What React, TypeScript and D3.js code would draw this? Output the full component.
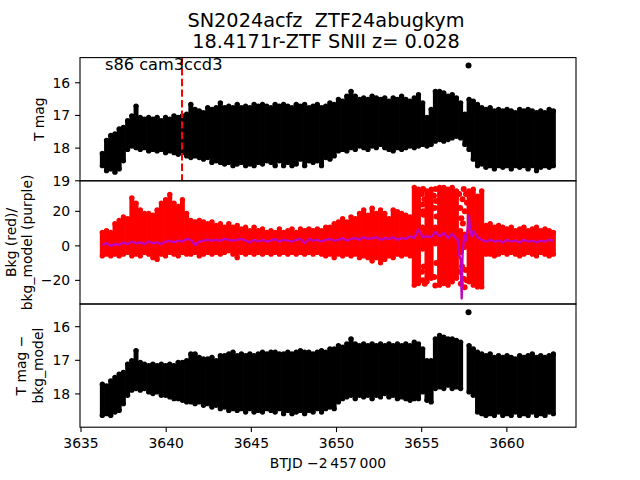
import React from 'react';
import * as d3 from 'd3';

// ---------- data ----------
const BIN_START = 3636.25;
const BIN_STEP = 0.2475;

// Panel 1: T mag envelope per time bin (bright edge, faint edge)
const magTop = [18.1, 17.7, 17.55, 17.5, 17.35, 17.3, 17.1, 16.95, 16.65, 17.0,
  17.05, 17.0, 17.05, 17.0, 17.1, 17.0, 17.05, 16.95, 17.0, 16.95,
  16.9, 16.6, 16.75, 16.8, 16.85, 16.7, 16.75, 16.7, 16.55, 16.7,
  16.65, 16.7, 16.6, 16.7, 16.65, 16.7, 16.6, 16.65, 16.6, 16.65,
  16.7, 16.6, 16.65, 16.6, 16.65, 16.7, 16.6, 16.65, 16.6, 16.7,
  16.65, 16.6, 16.7, 16.65, 16.55, 16.6, 16.45, 16.5, 16.35, 16.2,
  16.35, 16.45, 16.4, 16.45, 16.35, 16.4, 16.45, 16.4, 16.5, 16.4,
  16.45, 16.35, 16.45, 16.5, 16.4, 16.3, 16.55, 17.0, 16.75, 16.2,
  16.2, 16.25, 16.35, 16.3, 16.4, 16.55, 16.9, 16.45, 16.5, 16.6,
  16.7, 16.75, 16.7, 16.8, 16.75, 16.8, 16.75, 16.8, 16.85, 16.75,
  16.8, 16.75, 16.8, 16.85, 16.8, 16.85, 16.75, 16.8];
const magBot = [18.6, 18.75, 18.7, 18.8, 18.7, 18.45, 18.1, 18.0, 18.05, 18.1,
  18.05, 18.15, 18.1, 18.15, 18.1, 18.2, 18.15, 18.2, 18.25, 18.2,
  18.3, 18.35, 18.3, 18.35, 18.4, 18.35, 18.5, 18.45, 18.5, 18.55,
  18.5, 18.6, 18.55, 18.5, 18.6, 18.55, 18.6, 18.5, 18.55, 18.45,
  18.5, 18.6, 18.45, 18.6, 18.5, 18.6, 18.55, 18.4, 18.6, 18.45,
  18.5, 18.45, 18.6, 18.35, 18.4, 18.3, 18.15, 18.1, 18.15, 18.05,
  18.1, 18.0, 18.05, 18.1, 18.0, 18.05, 17.95, 18.05, 18.1, 18.15,
  18.05, 18.1, 18.05, 18.0, 18.05, 18.0, 17.95, 18.0, 17.95, 17.85,
  17.8, 17.85, 17.8, 17.75, 17.7, 17.75, 17.95, 18.1, 18.4, 18.6,
  18.55, 18.65, 18.6, 18.7, 18.6, 18.65, 18.6, 18.7, 18.6, 18.65,
  18.6, 18.7, 18.6, 18.75, 18.65, 18.6, 18.65, 18.6];

// Panel 2: background flux envelope (red points) and model (purple)
const bkgHi = [9, 10, 9, 14, 16, 18, 17, 29, 26, 22,
  20, 20, 19, 22, 26, 28, 31, 26, 24, 28,
  20, 16, 15, 16, 15, 14, 15, 13, 14, 12,
  14, 12, 13, 11, 12, 10, 12, 10, 11, 9,
  10, 9, 11, 9, 10, 11, 9, 11, 10, 11,
  10, 11, 10, 12, 12, 14, 15, 17, 15, 18,
  17, 20, 22, 19, 23, 20, 22, 20, 17, 22,
  21, 20, 19, 18, 35, 34, 12, 33, 34, 12,
  35, 35, 34, 35, 33, 10, 8, 33, 34, 30,
  33, 13, 14, 12, 13, 12, 11, 12, 10, 11,
  12, 10, 11, 12, 10, 11, 10, 9];
const bkgLo = [-7, -6, -7, -6, -7, -6, -5, -7, -6, -7,
  -5, -6, -8, -9, -6, -7, -5, -6, -7, -5,
  -6, -6, -5, -7, -6, -5, -6, -5, -6, -5,
  -4, -6, -8, -5, -6, -5, -6, -5, -6, -5,
  -6, -5, -6, -5, -6, -5, -6, -5, -6, -5,
  -6, -5, -6, -7, -6, -8, -6, -7, -6, -7,
  -6, -8, -7, -8, -10, -8, -11, -9, -7, -8,
  -6, -7, -6, -7, -24, -23, -3, -22, -20, 0,
  -24, -23, -24, -22, -20, -5, -2, -22, -24, -25,
  -25, -6, -6, -7, -6, -5, -6, -5, -6, -7,
  -6, -5, -6, -7, -5, -6, -7, -6];
const bkgScatT = [3655.0, 3655.04, 3655.08, 3655.12, 3655.16, 3655.02, 3655.07, 3655.13, 3655.18, 3655.1,
  3655.72, 3655.76, 3655.82, 3655.87, 3655.74, 3655.8, 3655.86, 3655.84,
  3657.2, 3657.26, 3657.33, 3657.4, 3657.47, 3657.53, 3657.6, 3657.66,
  3657.22, 3657.3, 3657.37, 3657.45, 3657.52, 3657.58, 3657.64, 3657.42];
const bkgScatV = [30, 24, 33, 18, 27, -15, -20, -12, -22, 20,
  29, 22, 33, 17, -18, -23, -10, 26,
  30, 22, 16, 27, 33, 20, 30, 25,
  -15, -22, -12, -19, -24, -14, -20, 13];
const modelV = [0.5, 1.5, 0.0, 1.0, 0.5, 2.0, 1.0, 2.5, 1.5, 2.0,
  1.0, 2.5, 1.5, 2.0, 1.0, 2.5, 3.0, 2.0, 3.0, 2.5,
  4.0, 3.5, 0.5, 2.5, 3.0, 3.5, 3.0, 3.5, 3.0, 4.0,
  3.5, 3.0, 3.5, 4.0, 3.0, 2.0, 3.5, 2.5, 3.5, 2.5,
  3.0, 4.0, 2.5, 3.5, 3.0, 2.5, 3.5, 4.0, 1.5, 4.0,
  3.0, 3.5, 2.5, 3.5, 4.0, 3.0, 3.5, 4.5, 3.0, 4.0,
  4.5, 3.5, 5.0, 4.0, 4.5, 5.0, 3.5, 4.5, 4.0, 5.0,
  3.5, 4.5, 4.0, 5.5, 4.5, 9.5, 5.0, 5.5, 5.0, 8.0,
  5.5, 7.5, 4.5, 7.0, 4.0, 2.0, 6.0, 6.0, 8.5, 5.0,
  3.5, 2.5, 3.5, 2.5, 3.0, 2.0, 3.5, 2.5, 3.0, 2.0,
  3.5, 2.5, 3.0, 2.0, 3.0, 2.5, 3.5, 3.0];
const modelSpikeT = [3657.1, 3657.2, 3657.28, 3657.35, 3657.4, 3657.5, 3657.6, 3657.7, 3657.78, 3657.85, 3657.94];
const modelSpikeV = [4, -5, -8, -30.5, -5, 6, 3, 10, 17.5, 9, 5.5];

// Panel 3: T mag - bkg_model envelope
const subTop = [17.65, 17.7, 17.55, 17.45, 17.35, 17.3, 17.05, 16.95, 16.65, 17.0,
  17.05, 17.1, 17.05, 17.1, 17.05, 17.1, 17.05, 17.1, 17.0, 17.0,
  16.95, 16.75, 16.75, 16.85, 16.9, 16.9, 16.85, 16.95, 16.8, 16.8,
  16.75, 16.7, 16.8, 16.75, 16.8, 16.75, 16.8, 16.75, 16.7, 16.75,
  16.7, 16.7, 16.75, 16.75, 16.7, 16.75, 16.7, 16.65, 16.7, 16.7,
  16.75, 16.7, 16.65, 16.7, 16.6, 16.6, 16.5, 16.55, 16.45, 16.3,
  16.45, 16.5, 16.45, 16.5, 16.45, 16.5, 16.45, 16.5, 16.45, 16.5,
  16.45, 16.5, 16.45, 16.5, 16.4, 16.45, 16.6, 16.95, 16.95, 16.3,
  16.2, 16.25, 16.3, 16.3, 16.35, 16.4, null, 16.5, 16.6, 16.7,
  16.75, 16.8, 16.75, 16.85, 16.8, 16.85, 16.8, 16.85, 16.9, 16.8,
  16.85, 16.8, 16.75, 16.85, 16.8, 16.85, 16.8, 16.75];
const subBot = [18.7, 18.65, 18.7, 18.6, 18.55, 18.35, 18.1, 17.95, 17.9, 17.95,
  17.9, 18.0, 18.05, 18.0, 18.1, 18.1, 18.15, 18.2, 18.2, 18.25,
  18.3, 18.3, 18.35, 18.3, 18.4, 18.35, 18.45, 18.4, 18.5, 18.45,
  18.55, 18.5, 18.55, 18.5, 18.6, 18.5, 18.6, 18.55, 18.6, 18.5,
  18.55, 18.6, 18.5, 18.65, 18.55, 18.65, 18.6, 18.55, 18.65, 18.55,
  18.6, 18.5, 18.6, 18.5, 18.45, 18.5, 18.3, 18.2, 18.15, 18.1,
  18.2, 18.1, 18.15, 18.1, 18.2, 18.1, 18.15, 18.05, 18.15, 18.1,
  18.2, 18.15, 18.2, 18.25, 18.2, 18.2, 18.0, 18.25, 18.3, 17.9,
  17.85, 17.9, 17.8, 17.9, 17.85, 17.9, null, 18.0, 18.1, 18.6,
  18.65, 18.7, 18.65, 18.7, 18.6, 18.7, 18.65, 18.7, 18.6, 18.7,
  18.65, 18.7, 18.6, 18.7, 18.65, 18.7, 18.6, 18.65];

const outlierT = [3657.75];
const outlierMag = [15.47];
const outlierSub = [15.57];
const markerT = 3640.93;

const xTicks = [3635, 3640, 3645, 3650, 3655, 3660];
const magTicks = [16, 17, 18, 19];
const bkgTicks = [-20, 0, 20];
const subTicks = [16, 17, 18];

const titleLines = ['SN2024acfz  ZTF24abugkym', '18.4171r-ZTF SNII z= 0.028'];
const sectorLabel = 's86 cam3ccd3';
const xLabel = 'BTJD \u22122\u2009457\u2009000';

// ---------- layout ----------
const W = 640, H = 480;
const LEFT = 80, RIGHT = 576;
const P1: [number, number] = [57.6, 180.8];
const P2: [number, number] = [180.8, 304];
const P3: [number, number] = [304, 427.2];
const FONT = 'DejaVu Sans, sans-serif';
const TICK = 4.9;
const MR = 2.6;

export default function App() {
  const x = d3.scaleLinear().domain([3634.94, 3664.06]).range([LEFT, RIGHT]);
  const y1 = d3.scaleLinear().domain([15.23, 19.0]).range(P1);
  const y2 = d3.scaleLinear().domain([37.7, -33.7]).range(P2);
  const y3 = d3.scaleLinear().domain([15.325, 18.99]).range(P3);
  const times = magTop.map((_, i) => BIN_START + i * BIN_STEP);
  const bw = x(BIN_START + BIN_STEP) - x(BIN_START) + 0.7;

  const bins = (top: (number | null)[], bot: (number | null)[], ys: d3.ScaleLinear<number, number>, color: string, key: string) =>
    times.map((t, i) => {
      const a = top[i], b = bot[i];
      if (a == null || b == null) return null;
      const ya = Math.min(ys(a), ys(b)), yb = Math.max(ys(a), ys(b));
      const cx = x(t);
      return (
        <g key={key + i} fill={color}>
          <rect x={cx - bw / 2} y={ya + 1} width={bw} height={Math.max(0, yb - ya - 2)} />
          <circle cx={cx} cy={ya + MR - 0.6} r={MR} />
          <circle cx={cx} cy={yb - MR + 0.6} r={MR} />
        </g>
      );
    });

  // model line: cadence values outside spike window + spike detail
  const lo = modelSpikeT[0] - 0.05, hi = modelSpikeT[modelSpikeT.length - 1] + 0.05;
  const modelPts: [number, number][] = [];
  times.forEach((t, i) => { if (t < lo || t > hi) modelPts.push([t, modelV[i]]); });
  modelSpikeT.forEach((t, i) => modelPts.push([t, modelSpikeV[i]]));
  modelPts.sort((a, b) => a[0] - b[0]);
  const modelPath = d3.line<[number, number]>().x(d => x(d[0])).y(d => y2(d[1]))(modelPts) || '';

  const yAxis = (ticks: number[], ys: d3.ScaleLinear<number, number>, k: string) => (
    <g key={k}>
      {ticks.map(v => (
        <g key={k + v}>
          <line x1={LEFT - TICK} x2={LEFT} y1={ys(v)} y2={ys(v)} stroke="#000" strokeWidth={1.1} />
          <text x={LEFT - TICK - 4.9} y={ys(v)} textAnchor="end" dominantBaseline="central" fontSize={13.9} fontFamily={FONT}>
            {v < 0 ? '\u2212' + Math.abs(v) : String(v)}
          </text>
        </g>
      ))}
    </g>
  );

  const vlabel = (lines: string[], xs: number[], cy: number, k: string) => (
    <g key={k}>
      {lines.map((s, i) => (
        <text key={k + i} transform={`translate(${xs[i]},${cy}) rotate(-90)`} textAnchor="middle" dominantBaseline="central"
          fontSize={13.9} fontFamily={FONT}>{s}</text>
      ))}
    </g>
  );

  return (
    <div style={{ position: 'fixed', left: 0, top: 0 }}>
      <svg width={W} height={H} viewBox={`0 0 ${W} ${H}`} style={{ display: 'block', background: '#fff' }}>
        <defs>
          <clipPath id="c1"><rect x={LEFT} y={P1[0]} width={RIGHT - LEFT} height={P1[1] - P1[0]} /></clipPath>
          <clipPath id="c2"><rect x={LEFT} y={P2[0]} width={RIGHT - LEFT} height={P2[1] - P2[0]} /></clipPath>
          <clipPath id="c3"><rect x={LEFT} y={P3[0]} width={RIGHT - LEFT} height={P3[1] - P3[0]} /></clipPath>
        </defs>
        <rect x={0} y={0} width={W} height={H} fill="#fff" />

        {/* title */}
        {titleLines.map((s, i) => (
          <text key={'t' + i} x={326} y={26.5 + i * 21.5} textAnchor="middle" fontSize={19.3} fontFamily={FONT}
            style={{ whiteSpace: 'pre' }}>{s}</text>
        ))}

        {/* panel 1 */}
        <g clipPath="url(#c1)">
          {bins(magTop, magBot, y1, '#000', 'a')}
          {outlierT.map((t, i) => <circle key={'o1' + i} cx={x(t)} cy={y1(outlierMag[i])} r={3} fill="#000" />)}
          <line x1={x(markerT)} x2={x(markerT)} y1={P1[0]} y2={P1[1]} stroke="#ff0000" strokeWidth={2} strokeDasharray="7.4,3.2" />
        </g>
        <text x={105} y={70} fontSize={16.2} fontFamily={FONT}>{sectorLabel}</text>

        {/* panel 2 */}
        <g clipPath="url(#c2)">
          {bins(bkgHi, bkgLo, y2, '#ff0000', 'b')}
          {bkgScatT.map((t, i) => <circle key={'s' + i} cx={x(t)} cy={y2(bkgScatV[i])} r={3} fill="#ff0000" />)}
          <path d={modelPath} fill="none" stroke="#bf00bf" strokeWidth={2.3} strokeLinejoin="round" />
        </g>

        {/* panel 3 */}
        <g clipPath="url(#c3)">
          {bins(subTop, subBot, y3, '#000', 'c')}
          {outlierT.map((t, i) => <circle key={'o3' + i} cx={x(t)} cy={y3(outlierSub[i])} r={3} fill="#000" />)}
        </g>

        {/* frames */}
        {[P1, P2, P3].map((p, i) => (
          <rect key={'f' + i} x={LEFT} y={p[0]} width={RIGHT - LEFT} height={p[1] - p[0]} fill="none" stroke="#000" strokeWidth={1.1} />
        ))}

        {yAxis(magTicks, y1, 'ya')}
        {yAxis(bkgTicks, y2, 'yb')}
        {yAxis(subTicks, y3, 'yc')}

        {/* x axis */}
        {xTicks.map(v => (
          <g key={'x' + v}>
            <line x1={x(v)} x2={x(v)} y1={P3[1]} y2={P3[1] + TICK} stroke="#000" strokeWidth={1.1} />
            <text x={x(v)} y={447.5} textAnchor="middle" fontSize={13.9} fontFamily={FONT}>{v}</text>
          </g>
        ))}
        <text x={(LEFT + RIGHT) / 2} y={468} textAnchor="middle" fontSize={13.9} fontFamily={FONT}>{xLabel}</text>

        {vlabel(['T mag'], [39], (P1[0] + P1[1]) / 2, 'l1')}
        {vlabel(['Bkg (red)/', 'bkg_model (purple)'], [11, 27], (P2[0] + P2[1]) / 2, 'l2')}
        {vlabel(['T mag \u2212', 'bkg_model'], [21, 38], (P3[0] + P3[1]) / 2, 'l3')}
      </svg>
    </div>
  );
}
